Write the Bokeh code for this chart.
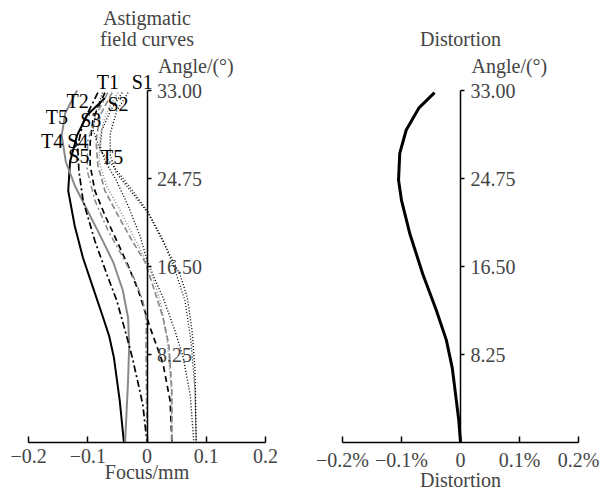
from bokeh.plotting import figure
from bokeh.models import LinearAxis, FixedTicker, Range1d, Label, ColumnDataSource
from bokeh.layouts import row
from bokeh.embed import file_html
from bokeh.resources import INLINE
from bokeh.core.properties import value

FONT = "Liberation Serif"
FS = "20px"

# ---------------- data ----------------
angle_ticks = [8.25, 16.50, 24.75, 33.00]
focus_ticks = [-0.2, -0.1, 0, 0.1, 0.2]
focus_tick_labels = ["\u22120.2", "\u22120.1", "0", "0.1", "0.2"]
dist_ticks = [-0.2, -0.1, 0, 0.1, 0.2]
dist_tick_labels = ["\u22120.2%", "\u22120.1%", "0", "0.1%", "0.2%"]

# astigmatic field curves: focus (mm) vs field angle (deg)
solid_black_focus = [-0.071, -0.101, -0.118, -0.130, -0.133, -0.122, -0.108, -0.091, -0.074, -0.064, -0.056, -0.046, -0.039]
solid_black_angle = [32.3, 30.7, 28.8, 26.3, 23.6, 20.3, 17.3, 14.5, 11.7, 10.0, 8.0, 3.9, 0.0]

solid_gray_focus = [-0.118, -0.138, -0.144, -0.137, -0.122, -0.101, -0.079, -0.057, -0.041, -0.032, -0.030, -0.032, -0.037]
solid_gray_angle = [33.0, 30.9, 28.8, 26.3, 24.1, 21.8, 19.4, 16.9, 14.3, 11.7, 9.1, 5.8, 0.0]

dashdot_black_focus = [-0.083, -0.108, -0.117, -0.115, -0.108, -0.088, -0.068, -0.051, -0.037, -0.025, -0.014, -0.007, 0.0]
dashdot_black_angle = [32.8, 30.0, 27.8, 25.5, 22.7, 18.9, 15.8, 13.3, 10.5, 8.0, 5.3, 3.5, 0.0]

dashed_black_focus = [-0.071, -0.091, -0.096, -0.096, -0.088, -0.071, -0.051, -0.032, -0.015, 0.005, 0.027, 0.039, 0.042]
dashed_black_angle = [32.8, 30.4, 28.1, 26.0, 23.6, 21.3, 18.9, 16.6, 14.3, 10.8, 7.4, 3.9, 0.0]

dashed_gray_focus = [-0.059, -0.079, -0.086, -0.083, -0.071, -0.049, -0.025, -0.003, 0.014, 0.027, 0.037, 0.042, 0.042]
dashed_gray_angle = [32.8, 30.7, 28.3, 26.0, 23.6, 21.3, 18.9, 16.9, 14.0, 11.7, 9.1, 4.9, 0.0]

dotted_outer_focus = [-0.032, -0.051, -0.062, -0.062, -0.052, -0.025, 0.002, 0.030, 0.056, 0.068, 0.076, 0.081, 0.083]
dotted_outer_angle = [32.8, 31.1, 29.0, 26.9, 25.3, 23.4, 21.5, 18.5, 15.7, 13.6, 10.5, 6.8, 0.0]

dotted_inner_focus = [-0.042, -0.062, -0.076, -0.079, -0.071, -0.052, -0.032, -0.012, 0.0, 0.014, 0.027, 0.047, 0.061, 0.073, 0.079]
dotted_inner_angle = [32.8, 31.1, 29.3, 27.8, 26.4, 24.6, 22.2, 19.4, 17.1, 15.2, 13.6, 10.5, 8.0, 4.4, 0.0]

dashdot_gray_focus = [-0.066, -0.086, -0.100, -0.101, -0.088, -0.066, -0.042, -0.020, -0.007, -0.001, -0.002, 0.0]
dashdot_gray_angle = [32.8, 30.7, 28.3, 25.5, 22.7, 19.9, 17.5, 15.2, 13.3, 11.4, 9.6, 0.0]

dotted_gray_focus = [-0.049, -0.069, -0.079, -0.081, -0.069, -0.046, -0.019, 0.005, 0.022, 0.034, 0.041, 0.042]
dotted_gray_angle = [32.8, 30.9, 28.8, 26.4, 24.1, 21.8, 18.9, 16.3, 13.3, 9.6, 4.9, 0.0]

dotted_diag_focus = [-0.075, -0.086, -0.091, -0.079, -0.051, -0.024, 0.002, 0.027, 0.047, 0.064, 0.074, 0.081, 0.083]
dotted_diag_angle = [32.8, 31.1, 29.3, 27.4, 25.5, 23.6, 21.6, 19.0, 16.2, 13.3, 9.6, 4.9, 0.0]

curve_names = ["T1", "S1", "T2", "S2", "T5", "S3", "T4", "S4", "S5", "T5"]
curve_name_focus = [-0.066, -0.008, -0.117, -0.049, -0.152, -0.095, -0.160, -0.117, -0.115, -0.059]
curve_name_angle = [33.8, 33.8, 32.0, 31.7, 30.5, 30.2, 28.3, 28.3, 26.9, 26.8]

# distortion (%) vs field angle (deg)
distortion_pct = [-0.044, -0.070, -0.092, -0.103, -0.105, -0.100, -0.086, -0.064, -0.041, -0.024, -0.014, -0.007, -0.003, 0.0]
distortion_angle = [32.8, 31.4, 29.3, 27.1, 24.6, 22.7, 19.6, 15.8, 12.4, 9.6, 7.0, 3.9, 2.1, 0.0]

# ---------------- styling ----------------
GRAY = "#8a8a8a"
field_curves = [
    (solid_black_focus, solid_black_angle, "black", 2.0, "solid"),
    (solid_gray_focus, solid_gray_angle, GRAY, 2.0, "solid"),
    (dashdot_black_focus, dashdot_black_angle, "black", 1.7, "7 3 2 3"),
    (dashed_black_focus, dashed_black_angle, "black", 1.7, "6 4"),
    (dashed_gray_focus, dashed_gray_angle, GRAY, 1.7, "6 3"),
    (dotted_outer_focus, dotted_outer_angle, "black", 1.4, "1 2"),
    (dotted_inner_focus, dotted_inner_angle, "black", 1.4, "1 2"),
    (dashdot_gray_focus, dashdot_gray_angle, GRAY, 1.5, "6 3 2 3"),
    (dotted_gray_focus, dotted_gray_angle, GRAY, 1.5, "1 2"),
    (dotted_diag_focus, dotted_diag_angle, "black", 1.2, "1 2"),
]

W = 304
H = 490
Y_START = -4.5
Y_END = 41.44


def base_fig(x_start, x_end):
    p = figure(width=W, height=H, output_backend="svg", toolbar_location=None,
               x_range=Range1d(x_start, x_end), y_range=Range1d(Y_START, Y_END),
               y_axis_location=None, x_axis_location=None, title_location=None,
               min_border=0)
    p.grid.visible = False
    p.outline_line_color = None
    return p


def add_x_axis(p, ticks, labels, axis_label):
    ax = LinearAxis(fixed_location=0, ticker=FixedTicker(ticks=ticks),
                    bounds=(ticks[0], ticks[-1]))
    ax.major_label_overrides = {t: l for t, l in zip(ticks, labels)}
    ax.major_tick_in = 6
    ax.major_tick_out = 0
    ax.minor_tick_line_color = None
    ax.axis_line_width = 1.5
    ax.major_tick_line_width = 1.5
    ax.major_label_text_font = FONT
    ax.major_label_text_font_size = FS
    ax.major_label_standoff = 6
    ax.axis_label = axis_label
    ax.axis_label_text_font = FONT
    ax.axis_label_text_font_size = FS
    ax.axis_label_text_font_style = "normal"
    ax.axis_label_standoff = -5
    p.add_layout(ax, "below")


def add_angle_axis(p):
    ax = LinearAxis(fixed_location=0, ticker=FixedTicker(ticks=angle_ticks),
                    bounds=(0, angle_ticks[-1]))
    ax.major_label_overrides = {t: f"{t:.2f}" for t in angle_ticks}
    ax.major_tick_in = 0
    ax.major_tick_out = 4
    ax.minor_tick_line_color = None
    ax.axis_line_width = 1.5
    ax.major_tick_line_width = 1.5
    ax.major_label_text_font = FONT
    ax.major_label_text_font_size = FS
    ax.major_label_standoff = 6
    p.add_layout(ax, "right")
    p.add_layout(Label(x=0, y=angle_ticks[-1] + 1.3, x_offset=11, text="Angle/(\u00b0)",
                       text_font=FONT, text_font_size=FS, text_baseline="bottom"))


# ---------------- left: astigmatic field curves ----------------
left = base_fig(-0.2473, 0.2658)
add_x_axis(left, focus_ticks, focus_tick_labels, "Focus/mm")
add_angle_axis(left)
for fx, fy, color, lw, dash in field_curves:
    left.line(fx, fy, line_color=color, line_width=lw, line_dash=dash)
names_src = ColumnDataSource(dict(x=curve_name_focus, y=curve_name_angle, t=curve_names))
left.text(x="x", y="y", text="t", source=names_src, text_font=value(FONT),
          text_font_size=FS, text_align="center", text_baseline="middle")
left.add_layout(Label(x=0, y=Y_END, y_offset=-17, text="Astigmatic", text_font=FONT,
                      text_font_size=FS, text_align="center", text_baseline="middle"))
left.add_layout(Label(x=0, y=Y_END, y_offset=-38, text="field curves", text_font=FONT,
                      text_font_size=FS, text_align="center", text_baseline="middle"))

# ---------------- right: distortion ----------------
right = base_fig(-0.2644, 0.2508)
add_x_axis(right, dist_ticks, dist_tick_labels, "Distortion")
add_angle_axis(right)
right.line(distortion_pct, distortion_angle, line_color="black", line_width=3)
right.add_layout(Label(x=0, y=Y_END, y_offset=-38, text="Distortion", text_font=FONT,
                       text_font_size=FS, text_align="center", text_baseline="middle"))

layout = row(left, right, spacing=0)
open("out.html", "w").write(file_html(layout, INLINE))
